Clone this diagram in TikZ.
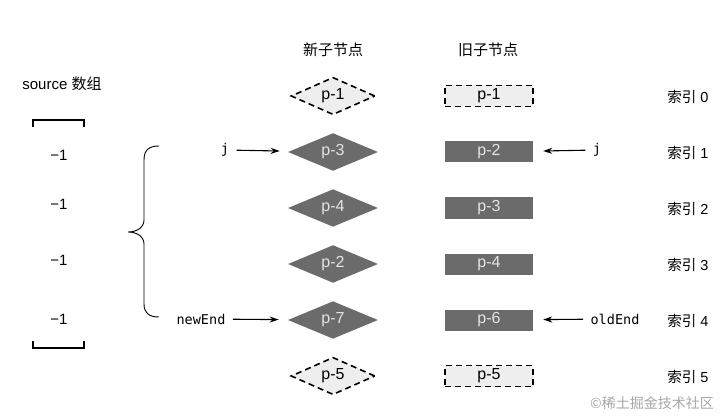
\documentclass[tikz,border=0pt]{standalone}
\usepackage{fontspec}
\setmainfont{Liberation Sans}
\setmonofont{DejaVu Sans Mono}
\newfontfamily\cjk{Noto Sans CJK SC}
\usetikzlibrary{shapes.geometric, arrows.meta}
\definecolor{nodegray}{HTML}{6B6B6B}
\definecolor{labelgray}{HTML}{E4E4E4}
\definecolor{ghostgray}{HTML}{EEEEEE}

\begin{document}
\begin{tikzpicture}[
            x=1pt, y=-1pt,
            newnode/.style = {
                diamond,
                fill=nodegray,
                text=labelgray,
                minimum width=90pt,
                minimum height=26pt,
                inner sep=0pt,
                font=\fontsize{16}{18}\selectfont
            },
            newghost/.style = {
                newnode,
                fill=ghostgray,
                text=black,
                draw=black,
                line width=1.6pt,
                dash pattern=on 6pt off 4pt,
                minimum width=84pt,
                minimum height=25pt
            },
            oldnode/.style = {
                rectangle,
                fill=nodegray,
                text=labelgray,
                minimum width=88pt,
                minimum height=21pt,
                inner sep=0pt,
                font=\fontsize{16}{18}\selectfont
            },
            oldghost/.style = {
                oldnode,
                fill=ghostgray,
                text=black,
                draw=black,
                line width=1.6pt,
                dash pattern=on 6pt off 4pt
            },
            header/.style = {font=\fontsize{15}{17}\selectfont},
            idxlabel/.style = {font=\fontsize{14.5}{16}\selectfont},
            codelabel/.style = {font=\ttfamily\fontsize{13.5}{15}\selectfont},
            pointer/.style = {
                -{Stealth[length=9pt, width=6pt]},
                line width=1.1pt,
                shorten <=4pt,
                shorten >=10pt
            }
        ]
            \useasboundingbox (0,0) rectangle (726,417);

            % column heads
            \node[header] (hnew) at (333,50) {\cjk 新子节点};
            \node[header] (hold) at (488,50) {\cjk 旧子节点};
            \node[header] (srctitle) at (62,84) {source {\cjk 数组}};

            % new and old children
            \node[newghost] (n0) at (333,96) {p-1};
            \foreach \i/\lbl in {1/p-3,2/p-4,3/p-2,4/p-7} {
                \node[newnode] (n\i) at (333,{96+\i*56}) {\lbl};
            }
            \node[newghost] (n5) at (333,376) {p-5};

            \node[oldghost] (o0) at (489,96) {p-1};
            \foreach \i/\lbl in {1/p-2,2/p-3,3/p-4,4/p-6} {
                \node[oldnode] (o\i) at (489,{96+\i*56}) {\lbl};
            }
            \node[oldghost] (o5) at (489,376) {p-5};

            \foreach \i in {0,...,5} {
                \node[idxlabel] (idx\i) at (688,{97+\i*56}) {{\cjk 索引}\hspace{4pt}\i};
            }

            % source array
            \foreach \i/\y in {0/155,1/204,2/260,3/319} {
                \node[header] (s\i) at (59,\y) {−1};
            }
            \draw[line width=1.1pt] (33,127) -- (33,120) -- (84,120) -- (84,127);
            \draw[line width=1.1pt] (33,341) -- (33,348) -- (84,348) -- (84,341);
            \draw[line width=0.9pt] (159,146) .. controls (149,146) and (144,150) .. (144,160)
                -- (144,220) .. controls (144,228) and (136,232) .. (128,232)
                .. controls (136,232) and (144,236) .. (144,244)
                -- (144,304) .. controls (144,313) and (149,317) .. (159,317);

            % pointers
            \node[codelabel] (jnew) at (225,150) {j};
            \node[codelabel] (jold) at (597,150) {j};
            \node[codelabel] (newend) at (201,319) {newEnd};
            \node[codelabel] (oldend) at (615,319) {oldEnd};
            \draw[pointer] (jnew) -- (n1);
            \draw[pointer] (jold) -- (o1);
            \draw[pointer] (newend) -- (n4);
            \draw[pointer] (oldend) -- (o4);

            \node[text=black!35, font=\fontsize{14}{16}\selectfont] (mark) at (652,403) {\cjk ©稀土掘金技术社区};

        \end{tikzpicture}
\end{document}
